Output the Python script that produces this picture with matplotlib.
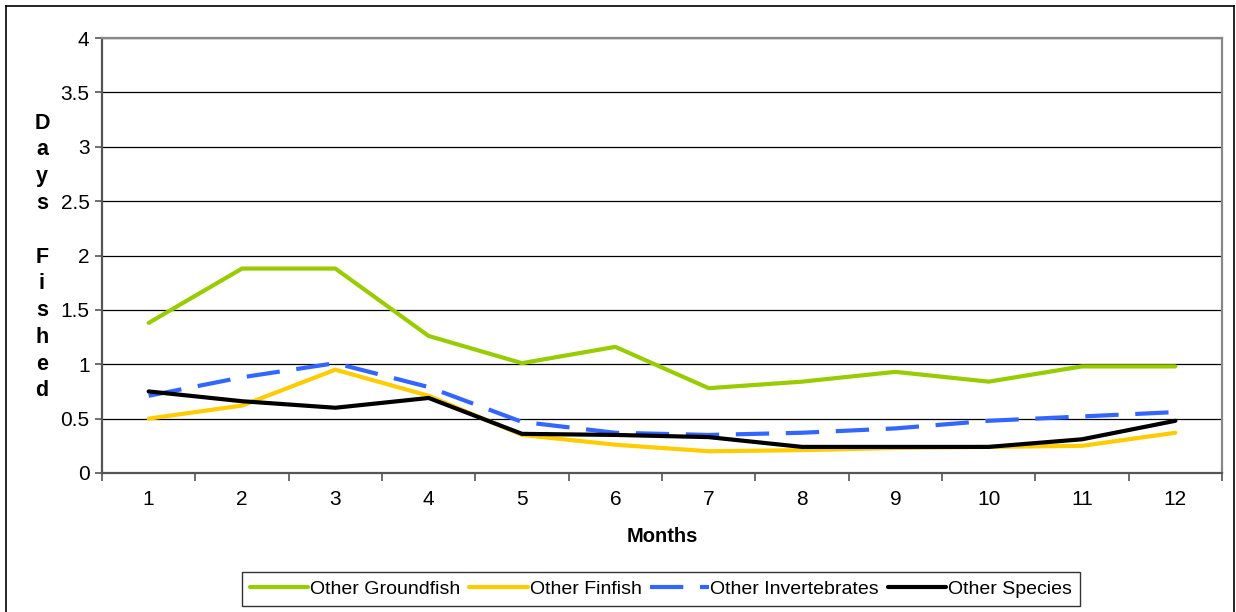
import matplotlib
matplotlib.use("Agg")
import matplotlib.pyplot as plt
from matplotlib.lines import Line2D
from matplotlib.ticker import FixedLocator, NullFormatter

plt.rcParams['font.family'] = ['Liberation Sans', 'DejaVu Sans']

months = [1, 2, 3, 4, 5, 6, 7, 8, 9, 10, 11, 12]
month_labels = [str(m) for m in months]

groundfish = [1.38, 1.88, 1.88, 1.26, 1.01, 1.16, 0.78, 0.84, 0.93, 0.84, 0.98, 0.98]
finfish = [0.50, 0.62, 0.95, 0.71, 0.35, 0.26, 0.20, 0.21, 0.23, 0.24, 0.25, 0.37]
invertebrates = [0.71, 0.88, 1.01, 0.79, 0.47, 0.37, 0.35, 0.37, 0.41, 0.48, 0.52, 0.56]
other_species = [0.75, 0.66, 0.60, 0.69, 0.36, 0.35, 0.33, 0.24, 0.24, 0.24, 0.31, 0.48]

series_names = ["Other Groundfish", "Other Finfish", "Other Invertebrates", "Other Species"]
y_ticks = [0, 0.5, 1, 1.5, 2, 2.5, 3, 3.5, 4]
y_tick_labels = ["0", "0.5", "1", "1.5", "2", "2.5", "3", "3.5", "4"]

W, H = 1236, 612
fig = plt.figure(figsize=(W / 100, H / 100), dpi=100)
fig.patch.set_facecolor("white")

# plot area in pixels
left, right, top, bottom = 102, 1222, 38, 473
ax = fig.add_axes([left / W, 1 - bottom / H, (right - left) / W, (bottom - top) / H])

lw = 3.0
ax.plot(months, groundfish, color="#99CC00", lw=lw, solid_capstyle="round", label=series_names[0], zorder=3)
ax.plot(months, finfish, color="#FFCC00", lw=lw, solid_capstyle="round", label=series_names[1], zorder=3)
ax.plot(months, invertebrates, color="#3366FF", lw=lw, dashes=(8, 4), label=series_names[2], zorder=3)
ax.plot(months, other_species, color="black", lw=lw, solid_capstyle="round", label=series_names[3], zorder=4)

ax.set_xlim(0.5, 12.5)
ax.set_ylim(0, 4)

ax.set_yticks(y_ticks)
ax.set_yticklabels(y_tick_labels)
ax.yaxis.grid(True, color="black", lw=0.9)
ax.set_axisbelow(True)

# category boundaries carry the tick marks, centers carry the labels
ax.xaxis.set_major_locator(FixedLocator([m - 0.5 for m in months] + [12.5]))
ax.xaxis.set_major_formatter(NullFormatter())
ax.xaxis.set_minor_locator(FixedLocator(months))
ax.set_xticklabels(month_labels, minor=True)
ax.tick_params(axis="x", which="major", length=6, width=1.2, color="#555555", direction="out")
ax.tick_params(axis="x", which="minor", length=0, pad=12, labelsize=15)
ax.tick_params(axis="y", length=5, width=1.2, color="#555555", direction="out", pad=4, labelsize=15)

for side in ["left", "bottom"]:
    ax.spines[side].set_color("#555555")
    ax.spines[side].set_linewidth(1.6)
for side in ["top", "right"]:
    ax.spines[side].set_color("#888888")
    ax.spines[side].set_linewidth(1.6)

fig.text((left + right) / 2 / W, 1 - 537 / H, "Months", ha="center", va="center",
         fontsize=14.5, fontweight="bold")

fig.text(42 / W, 1 - 257 / H, "D\na\ny\ns\n\nF\ni\ns\nh\ne\nd", ha="center", va="center",
         fontsize=15.5, fontweight="bold", linespacing=1.36)

leg = fig.legend(loc="center", bbox_to_anchor=(661 / W, 1 - 589 / H), ncol=4,
                 frameon=True, fancybox=False, edgecolor="black", fontsize=14,
                 handlelength=3.0, handletextpad=0.1, columnspacing=0.45,
                 borderpad=0.4, borderaxespad=0)
leg.get_frame().set_linewidth(1.0)

# outer chart border
for xs, ys in [([6, 1234], [6, 6]), ([6, 6], [6, 612]), ([1234, 1234], [6, 612])]:
    fig.add_artist(Line2D([x / W for x in xs], [1 - y / H for y in ys], color="black", lw=1.2))

fig.savefig("out.png", dpi=100)
